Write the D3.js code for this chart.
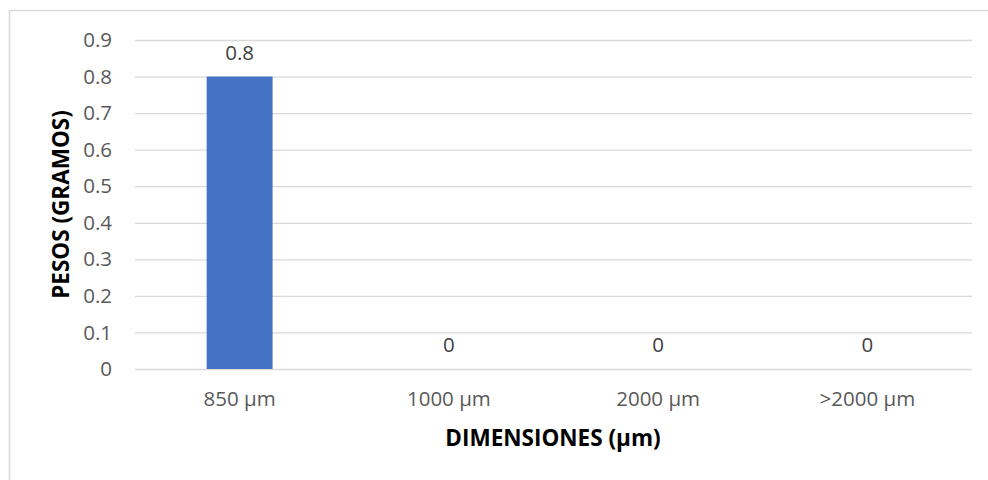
<!DOCTYPE html>
<html>
<head>
<meta charset="utf-8">
<script src="https://cdn.jsdelivr.net/npm/d3@7"></script>
<style>
  html, body { margin: 0; padding: 0; background: #ffffff; }
  svg { display: block; font-family: "Open Sans", sans-serif; }
</style>
</head>
<body>
<svg id="chart" width="988" height="480"></svg>
<script>
// Weight retained per sieve size
const categories = ["850 µm", "1000 µm", "2000 µm", ">2000 µm"];
const pesos = [0.8, 0, 0, 0];
const yTicks = [0, 0.1, 0.2, 0.3, 0.4, 0.5, 0.6, 0.7, 0.8, 0.9];
const xTitle = "DIMENSIONES (µm)";
const yTitle = "PESOS (GRAMOS)";

const svg = d3.select("#chart");
const W = 988, H = 480;
const margin = { top: 40, right: 16, bottom: 111, left: 135 };
const plotW = W - margin.left - margin.right;
const plotH = H - margin.top - margin.bottom;
const labelSize = "20.5px";
const titleSize = "22.5px";

// Chart frame
svg.append("rect")
  .attr("x", 9.5).attr("y", 10.5)
  .attr("width", 1000).attr("height", 500)
  .attr("fill", "#ffffff")
  .attr("stroke", "#d9d9d9").attr("stroke-width", 1.5);

const g = svg.append("g").attr("transform", `translate(${margin.left},${margin.top})`);

const x = d3.scaleBand().domain(categories).range([0, plotW])
  .paddingInner(0.685).paddingOuter(0.3425);
const y = d3.scaleLinear().domain([0, 0.9]).range([plotH, 0]);

// Horizontal gridlines and value labels
const yAxis = d3.axisLeft(y).tickValues(yTicks).tickSize(-plotW).tickPadding(23)
  .tickFormat(d => d === 0 ? "0" : d3.format(".1f")(d));
const yg = g.append("g").call(yAxis);
yg.select(".domain").remove();
yg.selectAll(".tick line").attr("stroke", "#d9d9d9").attr("stroke-width", 1.3);
yg.selectAll(".tick text").attr("fill", "#595959").style("font-size", labelSize)
  .style("font-family", "'Open Sans', sans-serif");

// Category labels
const xAxis = d3.axisBottom(x).tickSize(0).tickPadding(22);
const xg = g.append("g").attr("transform", `translate(0,${plotH})`).call(xAxis);
xg.select(".domain").remove();
xg.selectAll(".tick text").attr("fill", "#595959").style("font-size", labelSize)
  .style("font-family", "'Open Sans', sans-serif");

// Bars
g.selectAll("rect.bar").data(pesos).join("rect")
  .attr("class", "bar")
  .attr("x", (d, i) => x(categories[i]))
  .attr("width", x.bandwidth())
  .attr("y", d => y(d))
  .attr("height", d => plotH - y(d))
  .attr("fill", "#4472c4");

// Data labels
g.selectAll("text.val").data(pesos).join("text")
  .attr("class", "val")
  .attr("x", (d, i) => x(categories[i]) + x.bandwidth() / 2)
  .attr("y", d => y(d) - 17)
  .attr("text-anchor", "middle")
  .attr("fill", "#404040")
  .style("font-size", labelSize)
  .text(d => d === 0 ? "0" : d3.format(".1f")(d));

// Axis titles
svg.append("text")
  .attr("x", margin.left + plotW / 2 - 0.5).attr("y", 446)
  .attr("text-anchor", "middle")
  .attr("fill", "#000000")
  .style("font-size", titleSize).style("font-weight", "bold")
  .text(xTitle);

svg.append("text")
  .attr("transform", `translate(69,${margin.top + plotH / 2}) rotate(-90)`)
  .attr("text-anchor", "middle")
  .attr("fill", "#000000")
  .style("font-size", titleSize).style("font-weight", "bold")
  .text(yTitle);
</script>
</body>
</html>
